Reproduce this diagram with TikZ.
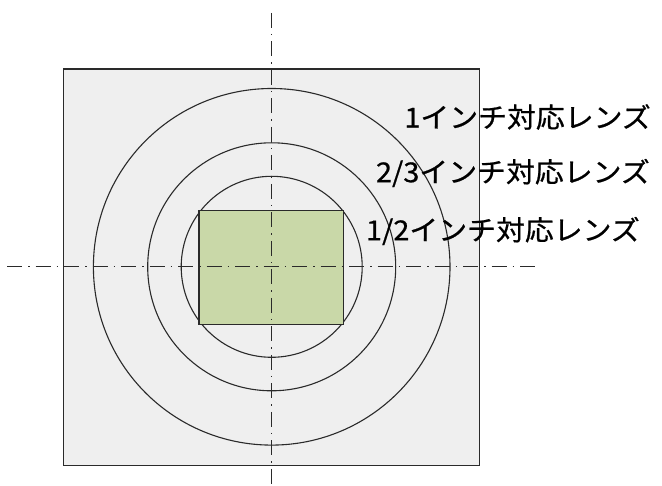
\documentclass[tikz,border=0pt]{standalone}
\usepackage{fontspec}
\newfontfamily\jpfont[FakeBold=0.6,FakeStretch=1.05]{Noto Sans CJK JP}
\definecolor{plate}{HTML}{EFEFEF}
\definecolor{sensor}{HTML}{C9D8A8}
\definecolor{ink}{HTML}{2A2A2A}
\tikzset{
  platebox/.style={draw=ink, line width=1.3pt, fill=plate},
  sensorbox/.style={draw=ink, line width=1.3pt, fill=sensor},
  lensring/.style={draw=ink, line width=1.1pt},
  centerline/.style={draw=ink, line width=1.1pt, dash pattern=on 15pt off 6pt on 1.5pt off 6pt},
  lenslabel/.style={anchor=east, inner sep=0pt, text=black, font=\jpfont\fontsize{27.5}{32}\selectfont}
}
\begin{document}
\begin{tikzpicture}[x=1pt,y=-1pt]
\useasboundingbox (0,0) rectangle (662,486);
\fill[white] (0,0) rectangle (662,486);
% plate
\draw[platebox] (63.5,69) rectangle (479.5,465.5);
\coordinate (c) at (271.7,266.8);
% lens image circles
\draw[lensring] (c) circle[radius=178.3];
\draw[lensring] (c) circle[radius=124];
\draw[lensring] (c) circle[radius=90.5];
% sensor
\draw[sensorbox] (199,210.3) rectangle (343.5,324.8);
% center lines
\coordinate (vtop) at (271.7,13);
\coordinate (vbot) at (271.7,486);
\coordinate (hleft) at (7,266.8);
\coordinate (hright) at (538,266.8);
\draw[centerline] (vtop) -- (vbot);
\draw[centerline] (hleft) -- (hright);
% labels
\node[lenslabel] (l1) at (651,117) {1インチ対応レンズ};
\node[lenslabel] (l2) at (650,173) {2/3インチ対応レンズ};
\node[lenslabel] (l3) at (640,231) {1/2インチ対応レンズ};
\end{tikzpicture}
\end{document}
